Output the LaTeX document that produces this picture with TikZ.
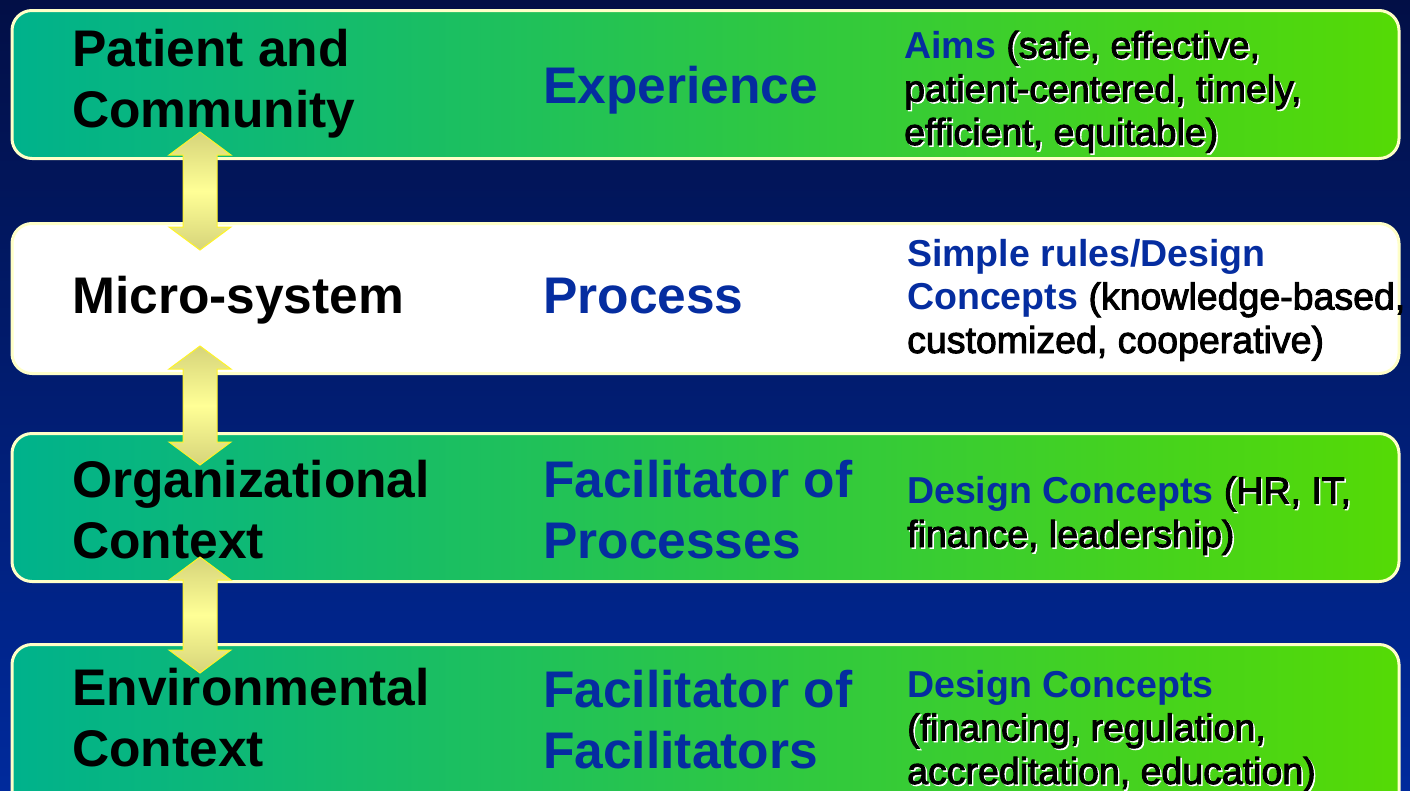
\documentclass[tikz,border=0pt]{standalone}
\usepackage{fontspec}
\setmainfont{Liberation Sans}
\newfontfamily\notefont{Liberation Sans}[FakeBold=2.5]
\usetikzlibrary{calc}
\definecolor{navytop}{RGB}{2,15,70}
\definecolor{navybot}{RGB}{0,42,156}
\definecolor{tealgrn}{RGB}{0,178,140}
\definecolor{limegrn}{RGB}{85,218,5}
\definecolor{cream}{RGB}{255,255,200}
\definecolor{inkblue}{RGB}{5,45,160}
\definecolor{khaki}{RGB}{214,212,122}
\definecolor{paleyel}{RGB}{255,255,150}
\newcommand\shd[1]{\makebox[0pt][l]{\kern1.5pt\raisebox{-1.5pt}{\color{white}#1}}#1}
\newcommand\blu[1]{{\normalfont\bfseries\color{inkblue}#1}}

\begin{document}
\begin{tikzpicture}[x=1pt,y=-1pt]
\tikzset{BandFrame/.style={rectangle,rounded corners=20pt,draw=cream,line width=3pt,minimum width=1387pt,inner sep=0pt}}
\tikzset{GreenBand/.style={BandFrame,left color=tealgrn,right color=limegrn}}
\tikzset{WhiteBand/.style={BandFrame,fill=white}}
\tikzset{Head/.style={anchor=base west,inner sep=0pt,align=left,font=\fontsize{51.5}{61}\selectfont\bfseries}}
\tikzset{Role/.style={Head,text=inkblue}}
\tikzset{Note/.style={anchor=base west,inner sep=0pt,align=left,font=\fontsize{37.5}{43.5}\selectfont\notefont}}
\tikzset{DuoArrow/.style={draw=yellow!85!white,line width=1pt,top color=khaki,bottom color=khaki,middle color=paleyel,
  to path={-- ++(31,23) -- ++(-14,0) -- ($(\tikztotarget)+(17,-23)$) -- ++(14,0) -- (\tikztotarget)
  -- ++(-31,-23) -- ++(14,0) -- ($(\tikztostart)+(-17,23)$) -- ++(-14,0) -- cycle}}}
\useasboundingbox (0,0) rectangle (1410,790);
\clip (0,0) rectangle (1410,790);
\shade[top color=navytop,bottom color=navybot] (0,0) rectangle (1410,790);
\node[GreenBand,minimum height=148pt] (pat) at (705.5,84.5) {};
\node[WhiteBand,minimum height=150pt] (mic) at (705.5,298.5) {};
\node[GreenBand,minimum height=148pt] (org) at (705.5,507.5) {};
\node[GreenBand,minimum height=170pt] (env) at (705.5,729.5) {};
\node[Head] (patL) at (72,127) {Patient and\\Community};
\node[Role] (patM) at (543,103) {Experience};
\node[Note] (patR) at (904,145) {\blu{Aims} \shd{(safe, effective,}\\\shd{patient-centered, timely,}\\\shd{efficient, equitable)}};
\node[Head] (micL) at (72,313) {Micro-system};
\node[Role] (micM) at (543,313) {Process};
\node[Note] (micR) at (907,353) {\blu{Simple rules/Design}\\\blu{Concepts} (knowledge-based,\\customized, cooperative)};
\node[Head] (orgL) at (72,558) {Organizational\\Context};
\node[Role] (orgM) at (543,558) {Facilitator of\\Processes};
\node[Note] (orgR) at (907,547) {\blu{Design Concepts} \shd{(HR, IT,}\\\shd{finance, leadership)}};
\node[Head] (envL) at (72,766) {Environmental\\Context};
\node[Role] (envM) at (543,768) {Facilitator of\\Facilitators};
\node[Note] (envR) at (907,784) {\blu{Design Concepts}\\\shd{(financing, regulation,}\\\shd{accreditation, education)}};
\coordinate (pat-dn) at (200,132);
\coordinate (mic-up) at (200,250);
\coordinate (mic-dn) at (200,346);
\coordinate (org-up) at (200,465);
\coordinate (org-dn) at (200,557);
\coordinate (env-up) at (200,673);
\draw[DuoArrow] (pat-dn) to (mic-up);
\draw[DuoArrow] (mic-dn) to (org-up);
\draw[DuoArrow] (org-dn) to (env-up);
\end{tikzpicture}
\end{document}
